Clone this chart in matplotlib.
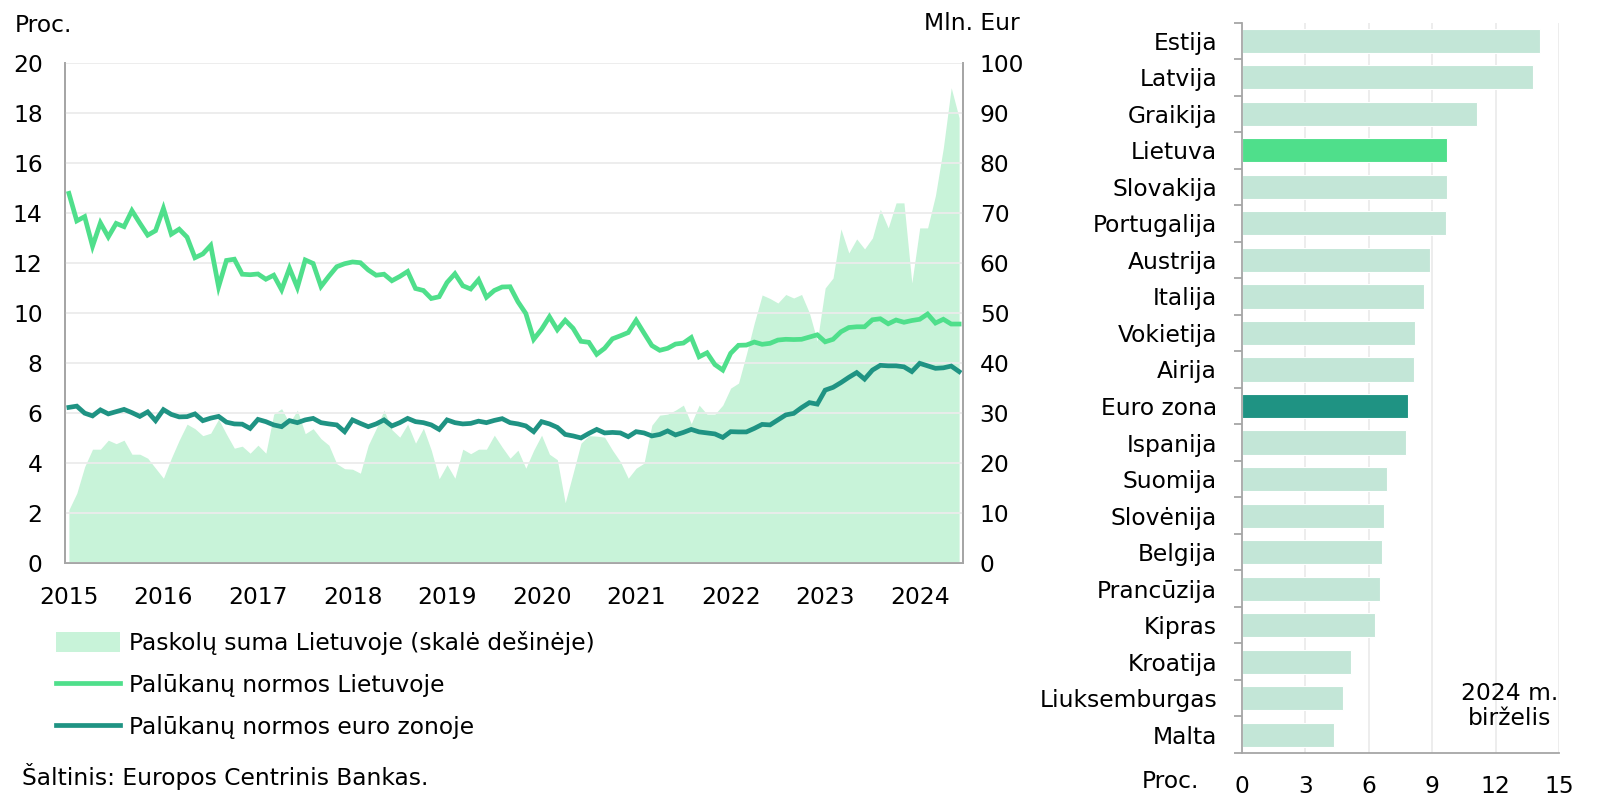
import numpy as np
import matplotlib
matplotlib.use("Agg")
import matplotlib.pyplot as plt
from matplotlib.patches import Patch
from matplotlib.lines import Line2D

plt.rcParams['font.family'] = ['DejaVu Sans']

# monthly data, 2015-01 .. 2024-06
loan_amount = [10.7, 14.0, 19.3, 22.8, 22.8, 24.6, 23.9, 24.6, 21.8, 21.8, 21.0, 19.0,
               17.0, 21.0, 24.6, 27.8, 26.9, 25.5, 26.0, 28.8, 25.8, 23.0, 23.4, 22.0,
               23.6, 22.0, 29.8, 30.9, 28.0, 30.6, 25.9, 26.9, 24.9, 23.6, 19.9, 18.9,
               18.8, 18.0, 23.6, 26.9, 30.6, 26.7, 25.2, 27.8, 24.0, 27.0, 22.6, 16.9,
               19.7, 17.0, 22.8, 21.9, 22.8, 22.8, 25.6, 23.2, 21.0, 22.6, 19.0, 22.6,
               25.6, 21.8, 20.7, 12.1, 18.0, 24.0, 25.5, 25.4, 25.2, 22.6, 20.3, 17.0,
               19.0, 20.0, 27.6, 29.6, 29.8, 30.6, 31.6, 27.9, 31.6, 29.8, 29.8, 31.6,
               35.0, 36.0, 41.8, 48.0, 53.6, 52.9, 52.0, 53.7, 53.0, 53.7, 50.0, 44.4,
               55.0, 57.0, 66.8, 62.0, 64.8, 62.8, 65.0, 70.7, 67.0, 72.0, 72.0, 56.0,
               67.0, 67.0, 73.5, 83.0, 95.0, 89.0]
rate_lt = [14.78, 13.68, 13.85, 12.67, 13.6, 13.04, 13.58, 13.45, 14.09, 13.59, 13.11, 13.29,
           14.18, 13.15, 13.35, 13.03, 12.21, 12.36, 12.7, 11.05, 12.1, 12.15, 11.55, 11.53,
           11.56, 11.35, 11.51, 10.93, 11.79, 11.02, 12.12, 11.98, 11.06, 11.47, 11.85, 11.97,
           12.04, 12.01, 11.72, 11.51, 11.55, 11.29, 11.46, 11.66, 10.98, 10.9, 10.58, 10.65,
           11.22, 11.57, 11.09, 10.96, 11.33, 10.63, 10.9, 11.04, 11.05, 10.45, 9.98, 8.95,
           9.35, 9.85, 9.33, 9.71, 9.39, 8.87, 8.83, 8.35, 8.59, 8.97, 9.09, 9.22,
           9.71, 9.2, 8.7, 8.51, 8.59, 8.76, 8.8, 9.02, 8.25, 8.41, 7.94, 7.72,
           8.39, 8.71, 8.72, 8.84, 8.75, 8.79, 8.92, 8.95, 8.94, 8.95, 9.04, 9.13,
           8.85, 8.95, 9.25, 9.42, 9.45, 9.45, 9.73, 9.77, 9.57, 9.72, 9.63, 9.7,
           9.75, 9.96, 9.6, 9.75, 9.56, 9.56]
rate_ez = [6.23, 6.28, 6.0, 5.89, 6.13, 5.97, 6.06, 6.15, 6.02, 5.87, 6.05, 5.7,
           6.14, 5.95, 5.85, 5.86, 5.97, 5.7, 5.8, 5.87, 5.64, 5.57, 5.56, 5.39,
           5.75, 5.66, 5.53, 5.46, 5.7, 5.62, 5.73, 5.79, 5.62, 5.57, 5.53, 5.26,
           5.73, 5.59, 5.46, 5.57, 5.73, 5.49, 5.62, 5.79, 5.66, 5.62, 5.53, 5.35,
           5.73, 5.62, 5.57, 5.59, 5.68, 5.62, 5.71, 5.78, 5.62, 5.57, 5.49, 5.26,
           5.66, 5.57, 5.43, 5.15, 5.09, 5.01, 5.19, 5.35, 5.21, 5.23, 5.21, 5.06,
           5.26, 5.21, 5.09, 5.15, 5.29, 5.13, 5.23, 5.35, 5.25, 5.21, 5.17, 5.03,
           5.26, 5.25, 5.25, 5.39, 5.55, 5.53, 5.73, 5.93, 5.99, 6.22, 6.42, 6.36,
           6.92, 7.03, 7.22, 7.43, 7.62, 7.36, 7.72, 7.91, 7.89, 7.89, 7.85, 7.66,
           7.99, 7.89, 7.79, 7.81, 7.88, 7.66]
years = ['2015', '2016', '2017', '2018', '2019', '2020', '2021', '2022', '2023', '2024']

countries = ['Estija', 'Latvija', 'Graikija', 'Lietuva', 'Slovakija', 'Portugalija',
             'Austrija', 'Italija', 'Vokietija', 'Airija', 'Euro zona', 'Ispanija',
             'Suomija', 'Slovėnija', 'Belgija', 'Prancūzija', 'Kipras', 'Kroatija',
             'Liuksemburgas', 'Malta']
country_rates = [14.12, 13.76, 11.13, 9.7, 9.7, 9.63, 8.88, 8.63, 8.2, 8.12, 7.85, 7.78,
                 6.85, 6.73, 6.62, 6.55, 6.27, 5.16, 4.77, 4.33]

C_LT = '#4fdf8b'
C_EZ = '#1f9383'
C_AREA = '#c8f3d9'
C_BAR = '#c3e6d7'
GRID = '#ececec'
SPINE = '#a6a6a6'
FS = 16.8

fig = plt.figure(figsize=(16, 8.08), dpi=100)

# ---- left: rates and loan amounts
ax = fig.add_axes([0.0406, 0.3028, 0.5613, 0.6196])
ax2 = ax.twinx()
x = np.arange(len(rate_lt))
ax2.fill_between(x, loan_amount, 0, color=C_AREA, lw=0)
ax.plot(x, rate_lt, color=C_LT, lw=3.4, solid_joinstyle='miter')
ax.plot(x, rate_ez, color=C_EZ, lw=3.4, solid_joinstyle='miter')
ax.set_zorder(ax2.get_zorder() + 1)
ax.patch.set_visible(False)

ax.set_xlim(-0.5, len(rate_lt) - 0.5)
ax.set_ylim(0, 20)
ax2.set_ylim(0, 100)
ax.set_yticks(np.arange(0, 21, 2))
ax2.set_yticks(np.arange(0, 101, 10))
ax.set_xticks(np.arange(len(years)) * 12)
ax.set_xticklabels(years)
ax.grid(axis='y', color=GRID, lw=1.3)
ax.tick_params(axis='y', length=0, pad=16, labelsize=FS)
ax.tick_params(axis='x', length=0, pad=16, labelsize=FS)
ax2.tick_params(axis='y', length=0, pad=12, labelsize=FS)
for a in (ax, ax2):
    a.spines['top'].set_visible(False)
    for s in ('left', 'right', 'bottom'):
        a.spines[s].set_color(SPINE)
        a.spines[s].set_linewidth(1.3)

fig.text(15 / 1600, 1 - 26 / 808, 'Proc.', fontsize=FS, ha='left', va='center')
fig.text(1020 / 1600, 1 - 24 / 808, 'Mln. Eur', fontsize=FS, ha='right', va='center')

handles = [Patch(facecolor=C_AREA, edgecolor='none'),
           Line2D([], [], color=C_LT, lw=3.4),
           Line2D([], [], color=C_EZ, lw=3.4)]
labels = ['Paskolų suma Lietuvoje (skalė dešinėje)',
          'Palūkanų normos Lietuvoje',
          'Palūkanų normos euro zonoje']
fig.legend(handles, labels, loc='upper left', bbox_to_anchor=(0.035, 1 - 631 / 808),
           frameon=False, fontsize=FS, handlelength=2.74, handleheight=1.0,
           handletextpad=0.37, labelspacing=0.8, borderpad=0, borderaxespad=0)
fig.text(22 / 1600, 1 - 776 / 808, 'Šaltinis: Europos Centrinis Bankas.',
         fontsize=FS, ha='left', va='center')

# ---- right: country rates
bx = fig.add_axes([0.7763, 0.0681, 0.1981, 0.904])
colors = [C_BAR] * len(countries)
colors[countries.index('Lietuva')] = C_LT
colors[countries.index('Euro zona')] = C_EZ
yy = np.arange(len(countries))
bx.barh(yy, country_rates, height=0.66, color=colors, edgecolor='white', lw=0.8, zorder=2)
bx.set_ylim(len(countries) - 0.5, -0.5)
bx.set_xlim(0, 15)
bx.set_xticks(np.arange(0, 16, 3))
bx.set_yticks(yy)
bx.set_yticklabels(countries)
bx.set_yticks(np.arange(len(countries) + 1) - 0.5, minor=True)
bx.tick_params(axis='y', which='major', length=0, pad=18, labelsize=FS)
bx.tick_params(axis='y', which='minor', length=6, width=1.3, color=SPINE)
bx.tick_params(axis='x', length=0, pad=16, labelsize=FS)
bx.grid(axis='x', color=GRID, lw=1.3, zorder=0)
bx.set_axisbelow(True)
for s in ('top', 'right'):
    bx.spines[s].set_visible(False)
for s in ('left', 'bottom'):
    bx.spines[s].set_color(SPINE)
    bx.spines[s].set_linewidth(1.3)
fig.text(1199 / 1600, 1 - 781 / 808, 'Proc.', fontsize=FS, ha='right', va='center')
bx.text(12.68, 18.21, '2024 m.\nbirželis', fontsize=FS, ha='center', va='center',
        linespacing=1.15)

fig.savefig('out.png', dpi=100)
